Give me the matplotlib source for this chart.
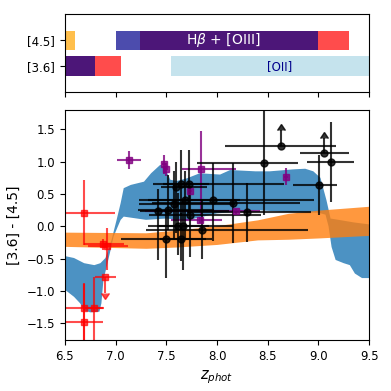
import matplotlib
matplotlib.use('Agg')
import matplotlib.pyplot as plt
import numpy as np

# --- top panel: emission lines falling in the IRAC bands ---
band_rows = [1, 1, 1, 0, 0, 0]  # 1 = [4.5], 0 = [3.6]
band_start = [6.3, 7.24, 7.0, 6.3, 6.3, 7.55]
band_end = [6.6, 9.3, 9.0, 7.05, 6.8, 9.7]
band_color = ['orange', 'red', 'darkblue', 'red', 'darkblue', 'lightblue']

# --- model tracks (upper and lower edges) ---
blue_up_z = [6.5, 6.59, 6.69, 6.79, 6.85, 6.90, 6.96, 7.01, 7.05, 7.08, 7.15, 7.28, 7.35,
             7.44, 7.48, 7.54, 7.6, 7.7, 7.83, 8.03, 8.13, 8.38, 8.52, 8.75, 8.87, 8.95,
             9.02, 9.08, 9.12, 9.2, 9.35, 9.5]
blue_up = [-0.46, -0.49, -0.57, -0.60, -0.57, -0.49, -0.21, 0.10, 0.36, 0.59, 0.64, 0.69, 0.82,
           0.95, 0.92, 0.72, 0.70, 0.74, 0.82, 0.80, 0.87, 0.85, 0.85, 0.88, 0.89, 0.85,
           0.75, 0.40, 0.12, 0.10, 0.06, 0.03]
blue_lo_z = [6.5, 6.59, 6.65, 6.69, 6.75, 6.84, 6.86, 6.88, 6.92, 6.95, 6.98, 7.02, 7.05,
             7.08, 7.3, 7.5, 7.7, 8.0, 8.4, 8.7, 9.0, 9.07, 9.1, 9.13, 9.17, 9.25, 9.31,
             9.36, 9.43, 9.5]
blue_lo = [-0.98, -1.09, -1.19, -1.30, -1.33, -1.32, -1.19, -0.83, -0.57, -0.37, -0.16, -0.01, 0.10,
           0.15, 0.10, 0.12, 0.09, 0.20, 0.25, 0.22, 0.21, 0.18, 0.0, -0.32, -0.52, -0.57, -0.60,
           -0.73, -0.80, -0.80]

orange_z = [6.5, 7.3, 7.6, 8.0, 8.4, 8.7, 9.0, 9.5]
orange_up = [-0.09, -0.10, -0.06, 0.01, 0.10, 0.20, 0.25, 0.31]
orange_lo = [-0.31, -0.34, -0.32, -0.28, -0.21, -0.20, -0.18, -0.14]

# --- red sources ---
red_z = [6.69, 6.88, 6.92, 6.69, 6.79, 6.69]
red_c = [0.21, -0.27, -0.31, -1.27, -1.27, -1.48]
red_zlo = [0.19, 0.19, 0.19, 0.19, 0.10, 0.19]
red_zhi = [0.30, 0.20, 0.20, 0.19, 0.10, 0.19]
red_clo = [0.50, 0.10, 0.36, 0.60, 0.60, 0.60]
red_chi = [0.50, 0.08, 0.28, 0.38, 0.48, 0.60]
red_lim_z, red_lim_c, red_lim_dz, red_lim_dc = [6.90], [-0.78], [0.10], [0.25]

# --- purple sources ---
pur_z = [7.13, 7.48, 7.50, 7.84, 7.73, 7.83, 8.19, 8.68]
pur_c = [1.03, 0.96, 0.88, 0.88, 0.55, 0.10, 0.23, 0.77]
pur_zlo = [0.12, 0.02, 0.02, 0.19, 0.02, 0.28, 0.90, 0.02]
pur_zhi = [0.12, 0.02, 0.02, 0.35, 0.02, 0.22, 0.23, 0.02]
pur_clo = [0.14, 0.15, 0.10, 0.72, 0.06, 0.05, 0.04, 0.13]
pur_chi = [0.14, 0.15, 0.10, 0.60, 0.06, 0.05, 0.04, 0.13]

# --- black sources ---
blk_z = [7.42, 7.52, 7.58, 7.60, 7.64, 7.72, 7.68, 7.73, 7.96, 8.16, 8.30, 7.62, 7.66,
         7.85, 7.50, 7.64, 8.46, 9.12, 9.01]
blk_c = [0.23, 0.25, 0.35, 0.60, 0.66, 0.65, 0.41, 0.18, 0.40, 0.36, 0.22, 0.01, 0.00,
         -0.05, -0.20, -0.19, 0.98, 1.00, 0.64]
blk_zlo = [0.18, 0.30, 0.35, 0.15, 0.27, 0.25, 0.45, 0.40, 0.64, 0.80, 0.60, 0.30, 0.25,
           0.55, 0.45, 0.20, 0.66, 0.23, 0.26]
blk_zhi = [0.70, 0.45, 0.60, 0.30, 1.02, 0.20, 0.55, 0.70, 1.00, 0.66, 0.63, 0.30, 0.50,
           1.05, 0.45, 0.25, 0.34, 0.23, 0.17]
blk_clo = [0.75, 0.30, 0.55, 0.70, 0.50, 0.45, 0.60, 0.65, 0.62, 0.62, 0.47, 0.45, 0.68,
           0.45, 0.60, 0.35, 0.80, 0.62, 0.46]
blk_chi = [0.35, 0.55, 0.50, 0.40, 0.52, 0.53, 0.45, 0.45, 0.58, 0.62, 0.45, 0.50, 0.40,
           0.45, 0.45, 0.40, 0.80, 0.62, 0.46]
blk_lim_z = [8.63, 9.06]
blk_lim_c = [1.24, 1.13]
blk_lim_zlo = [0.55, 0.24]
blk_lim_zhi = [0.54, 0.24]
blk_lim_dc = [0.25, 0.23]

fig = plt.figure(figsize=(3.91, 3.91), dpi=100)
ax_top = fig.add_axes([0.166, 0.765, 0.778, 0.198])
ax = fig.add_axes([0.166, 0.130, 0.778, 0.589])

# top panel
for r, s, e, c in zip(band_rows, band_start, band_end, band_color):
    ax_top.barh(r, e - s, left=s, height=0.75, color=c, alpha=0.7)
ax_top.text(8.06, 1, r'H$\beta$ + [OIII]', color='white', ha='center', va='center', fontsize=10)
ax_top.text(8.62, 0, '[OII]', color='darkblue', ha='center', va='center', fontsize=8.5)
ax_top.set_yticks([1, 0], labels=['[4.5]', '[3.6]'])
ax_top.set_ylim(-1, 2)
ax_top.set_xlim(6.5, 9.5)
ax_top.set_xticks(np.arange(6.5, 9.6, 0.5))
ax_top.tick_params(labelbottom=False, labelsize=8.5)

# tracks
ax.fill(blue_up_z + blue_lo_z[::-1], blue_up + blue_lo[::-1], color='C0', alpha=0.8, lw=0)
ax.fill_between(orange_z, orange_lo, orange_up, color='C1', alpha=0.8, lw=0)

# sources
ax.errorbar(red_z, red_c, xerr=[red_zlo, red_zhi], yerr=[red_clo, red_chi], fmt='s',
            color='red', ms=5, alpha=0.7, lw=1.5)
ax.errorbar(red_lim_z, red_lim_c, xerr=red_lim_dz, yerr=red_lim_dc, uplims=True, fmt='s',
            color='red', ms=5, alpha=0.7, lw=1.5)
ax.errorbar(pur_z, pur_c, xerr=[pur_zlo, pur_zhi], yerr=[pur_clo, pur_chi], fmt='s',
            color='purple', ms=5, alpha=0.8, lw=1.5)
ax.errorbar(blk_z, blk_c, xerr=[blk_zlo, blk_zhi], yerr=[blk_clo, blk_chi], fmt='o',
            color='k', ms=5, alpha=0.8, lw=1.5)
ax.errorbar(blk_lim_z, blk_lim_c, xerr=[blk_lim_zlo, blk_lim_zhi], yerr=blk_lim_dc, lolims=True,
            fmt='o', color='k', ms=5, alpha=0.8, lw=1.5)

ax.set_xlim(6.5, 9.5)
ax.set_ylim(-1.76, 1.80)
ax.set_xticks(np.arange(6.5, 9.6, 0.5))
ax.set_yticks([-1.5, -1.0, -0.5, 0.0, 0.5, 1.0, 1.5])
ax.tick_params(labelsize=8.5)
ax.set_xlabel(r'$z_{phot}$', fontsize=10.5)
ax.set_ylabel('[3.6] - [4.5]', fontsize=10)

fig.savefig('out.png', dpi=100)
